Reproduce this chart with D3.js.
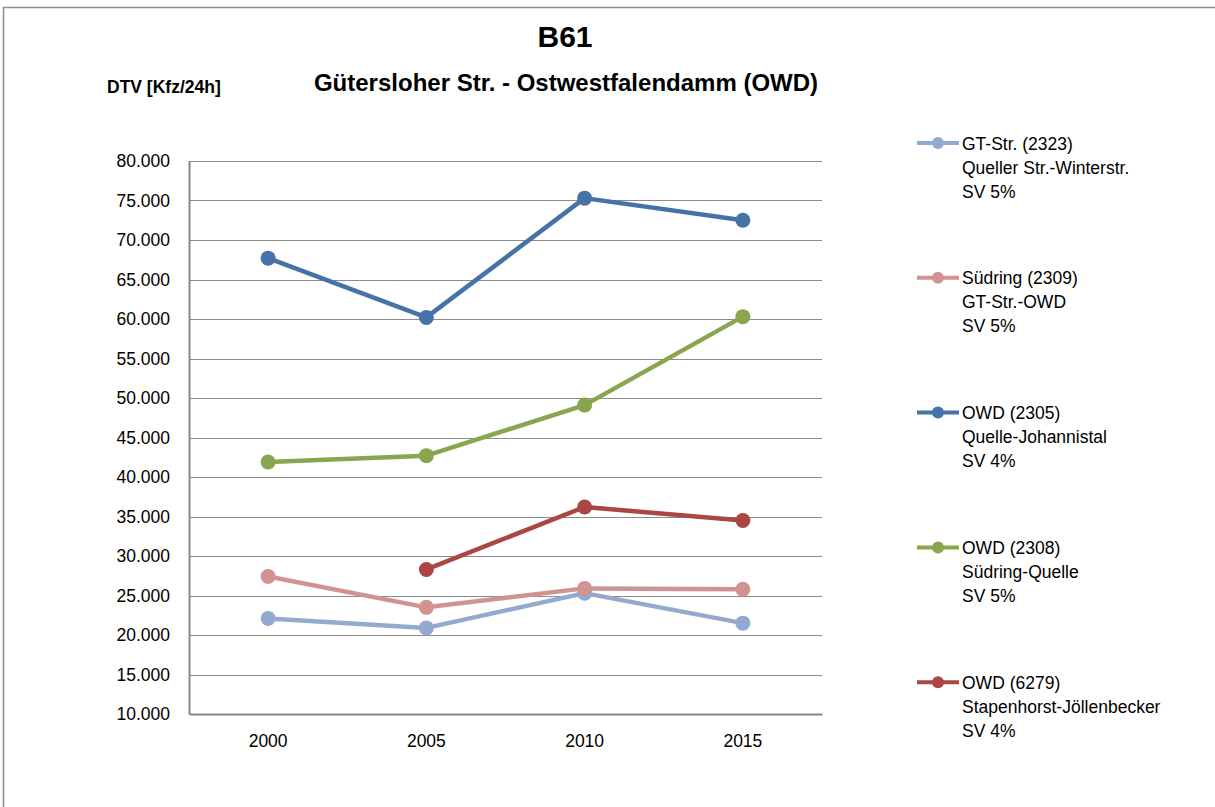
<!DOCTYPE html>
<html>
<head>
<meta charset="utf-8">
<script src="https://cdn.jsdelivr.net/npm/d3@7"></script>
<style>
body{margin:0;background:#fff;}
text{font-family:"Liberation Sans",Arial,sans-serif;fill:#000;}
</style>
</head>
<body>
<svg width="1215" height="807"></svg>
<script>
// ---- data ----
var years = ["2000","2005","2010","2015"];
var gtStr2323 = [22100, 20900, 25300, 21500];
var suedring2309 = [27400, 23500, 25900, 25800];
var owd2305 = [67700, 60200, 75300, 72500];
var owd2308 = [41900, 42700, 49100, 60300];
var owd6279 = [null, 28300, 36200, 34500];
var yTicks = [10000,15000,20000,25000,30000,35000,40000,45000,50000,55000,60000,65000,70000,75000,80000];

var seriesNames = [
  ["GT-Str. (2323)","Queller Str.-Winterstr.","SV 5%"],
  ["Südring (2309)","GT-Str.-OWD","SV 5%"],
  ["OWD (2305)","Quelle-Johannistal","SV 4%"],
  ["OWD (2308)","Südring-Quelle","SV 5%"],
  ["OWD (6279)","Stapenhorst-Jöllenbecker","SV 4%"]
];
var seriesValues = [gtStr2323, suedring2309, owd2305, owd2308, owd6279];
var colors = ["#93A9CF","#D19392","#4572A7","#89A54E","#AA4643"];

var svg = d3.select("svg");

// outer frame
svg.append("rect").attr("x",3.5).attr("y",7.5).attr("width",1220).attr("height",820)
  .attr("fill","none").attr("stroke","#8c8c8c").attr("stroke-width",1.5);

/*======================
  scales
=======================*/
var plot = {left:189, right:822, top:161, bottom:714};

var x = d3.scaleBand().domain(years).range([plot.left, plot.right]);
var y = d3.scaleLinear().domain([10000,80000]).range([plot.bottom, plot.top]);

// gridlines
svg.append("g").selectAll("line").data(yTicks.slice(1)).enter().append("line")
  .attr("x1",plot.left).attr("x2",plot.right)
  .attr("y1",function(d){return Math.round(y(d))+0.5;})
  .attr("y2",function(d){return Math.round(y(d))+0.5;})
  .attr("stroke","#8c8c8c").attr("stroke-width",1.2);

// y axis
var yAxis = d3.axisLeft(y).tickValues(yTicks).tickSize(0).tickPadding(19)
  .tickFormat(function(d){ return d3.format(",.0f")(d).replace(",","."); });
var gy = svg.append("g").attr("transform","translate("+plot.left+",0)").call(yAxis);
gy.select(".domain").attr("stroke","#868686").attr("stroke-width",2);
gy.selectAll("text").attr("font-size",17.5).attr("fill","#000");

// x axis
var xAxis = d3.axisBottom(x).tickSize(0).tickPadding(21);
var gx = svg.append("g").attr("transform","translate(0,"+plot.bottom+")").call(xAxis);
gx.select(".domain").attr("stroke","#868686").attr("stroke-width",2);
gx.selectAll("text").attr("font-size",17.5).attr("fill","#000");

/*======================
  lines + markers
=======================*/
var line = d3.line()
  .defined(function(d){return d.v !== null;})
  .x(function(d){return x(d.year)+x.bandwidth()/2;})
  .y(function(d){return y(d.v);});

seriesValues.forEach(function(vals,i){
  var pts = vals.map(function(v,j){return {year:years[j], v:v};});
  svg.append("path").datum(pts)
    .attr("d",line).attr("fill","none")
    .attr("stroke",colors[i]).attr("stroke-width",4.5).attr("stroke-linejoin","round");
  svg.append("g").selectAll("circle").data(pts.filter(function(d){return d.v!==null;}))
    .enter().append("circle")
    .attr("cx",function(d){return x(d.year)+x.bandwidth()/2;})
    .attr("cy",function(d){return y(d.v);})
    .attr("r",7.5).attr("fill",colors[i]);
});

/*======================
  titles
=======================*/
svg.append("text").attr("x",565).attr("y",47).attr("text-anchor","middle")
  .attr("font-size",30).attr("font-weight","bold").text("B61");
svg.append("text").attr("x",566).attr("y",91).attr("text-anchor","middle")
  .attr("font-size",24).attr("font-weight","bold").text("Gütersloher Str. - Ostwestfalendamm (OWD)");
svg.append("text").attr("x",107).attr("y",93)
  .attr("font-size",17.5).attr("font-weight","bold").text("DTV [Kfz/24h]");

/*======================
  legend
=======================*/
var legend = svg.append("g");
seriesNames.forEach(function(lines,i){
  var ly = 143 + i*134.8;
  legend.append("line").attr("x1",917).attr("x2",959).attr("y1",ly).attr("y2",ly)
    .attr("stroke",colors[i]).attr("stroke-width",4);
  legend.append("circle").attr("cx",938).attr("cy",ly).attr("r",6).attr("fill",colors[i]);
  lines.forEach(function(t,k){
    legend.append("text").attr("x",962).attr("y",ly+6.5+k*24)
      .attr("font-size",17.5).text(t);
  });
});
</script>
</body>
</html>
